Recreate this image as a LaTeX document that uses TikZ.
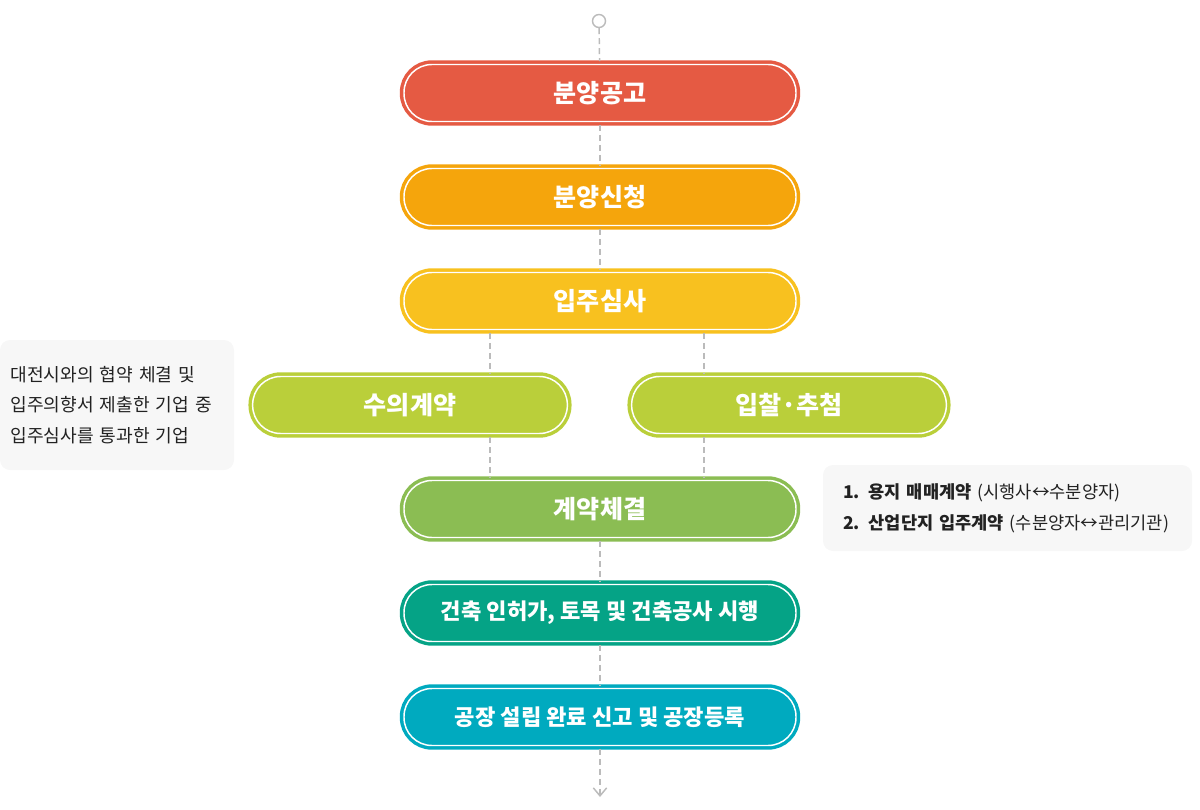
\documentclass[tikz,border=0pt]{standalone}
\usepackage{fontspec}
\setmainfont{Noto Sans CJK KR}
\usepackage{tikz}
\usetikzlibrary{shapes,arrows,arrows.meta}
\usepackage{xcolor}
\definecolor{redstep}{HTML}{E55A43}
\definecolor{orangestep}{HTML}{F5A50C}
\definecolor{yellowstep}{HTML}{F8C11F}
\definecolor{limestep}{HTML}{BACF3A}
\definecolor{greenstep}{HTML}{8BBD53}
\definecolor{tealstep}{HTML}{05A386}
\definecolor{cyanstep}{HTML}{00AABF}
\definecolor{notegray}{HTML}{F7F7F7}
\definecolor{linegray}{HTML}{BBBBBB}
\definecolor{textdark}{HTML}{222222}
\tikzstyle{stepbox} = [rectangle, rounded corners=21pt, minimum width=294pt, minimum height=42.75pt, text centered, text=white, font=\bfseries\fontsize{18.8}{20}\selectfont, line width=2.6pt, double=white, double distance=1.1pt, outer sep=2.6pt]
\tikzstyle{halfbox} = [stepbox, minimum width=236pt]
\tikzstyle{note} = [rectangle, rounded corners=7.5pt, fill=notegray, align=left, text=textdark, font=\fontsize{13.6}{23}\selectfont]
\tikzstyle{link} = [draw=linegray, line width=1.1pt, dash pattern=on 4.5pt off 3pt]

\begin{document}
\begin{tikzpicture}[x=0.75pt, y=-0.75pt, node distance=78pt]
    \useasboundingbox (0,0) rectangle (1200,810);
    \node (start) [circle, draw=linegray, line width=1.1pt, minimum size=9.75pt, inner sep=0pt] at (599,21) {};
    \node (b1) [stepbox, fill=redstep, draw=redstep] at (600,93) {분양공고};
    \node (b2) [stepbox, fill=orangestep, draw=orangestep, below of=b1] {분양신청};
    \node (b3) [stepbox, fill=yellowstep, draw=yellowstep, below of=b2] {입주심사};
    \node (b4a) [halfbox, fill=limestep, draw=limestep, below of=b3, xshift=-142.5pt] {수의계약};
    \node (b4b) [halfbox, fill=limestep, draw=limestep, below of=b3, xshift=141.75pt] {입찰·추첨};
    \node (b5) [stepbox, fill=greenstep, draw=greenstep, below of=b3, yshift=-78pt] {계약체결};
    \node (b6) [stepbox, fill=tealstep, draw=tealstep, below of=b5, font=\bfseries\fontsize{16.6}{18}\selectfont] {건축 인허가, 토목 및 건축공사 시행};
    \node (b7) [stepbox, fill=cyanstep, draw=cyanstep, below of=b6, font=\bfseries\fontsize{16.6}{18}\selectfont] {공장 설립 완료 신고 및 공장등록};

    \node (leftnote) [note, minimum width=175.5pt, minimum height=97.5pt, text width=160pt] at (117,405) {대전시와의 협약 체결 및\\입주의향서 제출한 기업 중\\입주심사를 통과한 기업};
    \node (rightnote) [note, minimum width=276.75pt, minimum height=64.5pt, text width=246.75pt, font=\fontsize{13.2}{23}\selectfont] at (1007.5,508) {\textbf{1. 용지 매매계약} (시행사↔수분양자)\\\textbf{2. 산업단지 입주계약} (수분양자↔관리기관)};

    \coordinate (lx) at (490,0);
    \coordinate (rx) at (704,0);
    \coordinate (endpt) at (600,797);

    \draw [link] (start) -- (b1);
    \draw [link] (b1) -- (b2);
    \draw [link] (b2) -- (b3);
    \draw [link] (b3.south -| lx) -- (b4a.north -| lx);
    \draw [link] (b3.south -| rx) -- (b4b.north -| rx);
    \draw [link] (b4a.south -| lx) -- (b5.north -| lx);
    \draw [link] (b4b.south -| rx) -- (b5.north -| rx);
    \draw [link] (b5) -- (b6);
    \draw [link] (b6) -- (b7);
    \draw [link, -{Straight Barb[length=6pt, width=10pt]}] (b7) -- (endpt);
\end{tikzpicture}
\end{document}
